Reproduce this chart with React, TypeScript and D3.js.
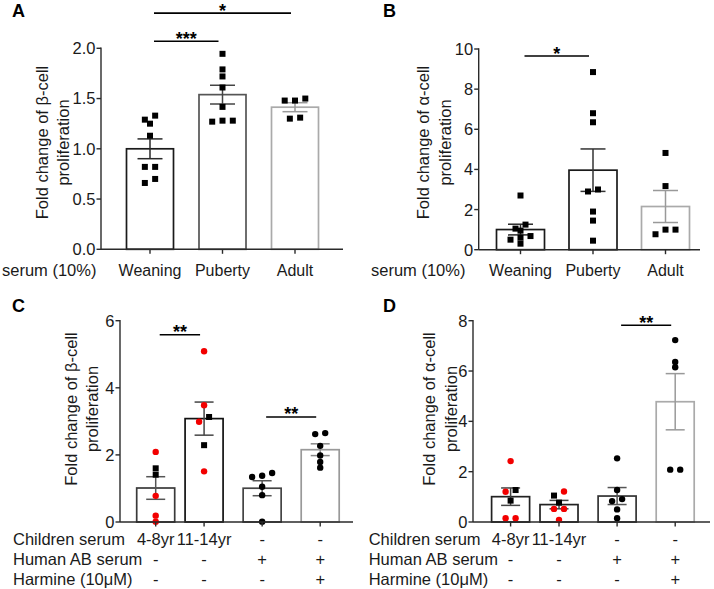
import React from "react";
import * as d3 from "d3";

// ---------------- DATA ----------------
const mouseCategories = ["Weaning", "Puberty", "Adult"];
const betaWeaning = [1.33, 1.29, 1.25, 1.13, 0.82, 0.82, 0.7, 0.66];
const betaPuberty = [1.945, 1.79, 1.72, 1.61, 1.417, 1.27, 1.28, 1.28];
const betaAdult = [1.48, 1.5, 1.48, 1.3, 1.31];
const alphaWeaning = [2.7, 1.25, 1.05, 0.95, 0.68, 0.6, 0.5, 0.3];
const alphaPuberty = [8.85, 6.8, 6.35, 3.0, 2.9, 1.9, 1.45, 0.45];
const alphaAdult = [4.82, 3.17, 1.0, 1.0, 0.77];

const betaTicks = [0, 0.5, 1, 1.5, 2];
const alphaMouseTicks = [0, 2, 4, 6, 8, 10];
const betaHumanTicks = [0, 2, 4, 6];
const alphaHumanTicks = [0, 2, 4, 6, 8];

const humanGroups = ["4-8yr", "11-14yr", "AB", "AB+Harmine"];
const childrenSerumRow = ["4-8yr", "11-14yr", "-", "-"];
const humanABRow = ["-", "-", "+", "+"];
const harmineRow = ["-", "-", "-", "+"];
const rowLabels = ["Children serum", "Human AB serum", "Harmine (10\u03bcM)"];

// kinds: r = red circle, s = black square, c = black circle
const betaChild48 = [2.09, 1.6, 1.41, 0.78, 0.19, 0.01];
const betaChild48Kind = ["r", "s", "s", "r", "r", "r"];
const betaChild1114 = [5.09, 3.48, 3.13, 2.99, 2.29, 1.51];
const betaChild1114Kind = ["r", "r", "s", "r", "s", "r"];
const betaAB = [1.46, 1.38, 1.34, 1.05, 0.8, 0.01];
const betaABHarmine = [2.65, 2.62, 2.27, 1.98, 1.79, 1.62];

const alphaChild48 = [2.42, 1.27, 1.2, 0.85, 0.15, 0.15];
const alphaChild48Kind = ["r", "s", "r", "s", "r", "r"];
const alphaChild1114 = [1.21, 1.05, 0.77, 0.52, 0.52, 0.08];
const alphaChild1114Kind = ["r", "s", "s", "r", "r", "r"];
const alphaAB = [2.53, 1.27, 0.91, 0.83, 0.5, 0.15];
const alphaABHarmine = [7.23, 6.36, 6.15, 2.08, 2.08];

const sigA = [
  { from: 0, to: 1, label: "***", level: 2.07 },
  { from: 0, to: 2, label: "*", level: 2.35 },
];
const sigB = [{ from: 0, to: 1, label: "*", level: 9.65 }];
const sigC = [
  { from: 0, to: 1, label: "**", level: 5.58 },
  { from: 2, to: 3, label: "**", level: 3.13 },
];
const sigD = [{ from: 2, to: 3, label: "**", level: 7.82 }];

// ---------------- HELPERS ----------------
const FONT = "'Liberation Sans', Arial, Helvetica, sans-serif";
const TXT = "#1a1a1a";
const RED = "#f20000";
const FS = 16.5;

function swarmOffsets(values: number[], y: (v: number) => number, spacing: number, thresh = 5) {
  const idx = values.map((_, i) => i).sort((a, b) => values[b] - values[a]);
  const clusters: number[][] = [];
  for (const i of idx) {
    const cur = clusters[clusters.length - 1];
    if (cur && Math.abs(y(values[i]) - y(values[cur[0]])) < thresh) cur.push(i);
    else clusters.push([i]);
  }
  const off = new Array(values.length).fill(0);
  for (const c of clusters) {
    const s = [...c].sort((a, b) => values[a] - values[b]);
    s.forEach((i, k) => (off[i] = (k - (s.length - 1) / 2) * spacing));
  }
  return off;
}

type Group = { values: number[]; kinds?: string[]; stroke: string; err: string };

type PanelProps = {
  letter: string;
  letterX: number;
  letterY: number;
  axisX: number;
  axisEnd: number;
  yTopPx: number;
  yZeroPx: number;
  yMax: number;
  ticks: number[];
  fmt: (v: number) => string;
  centers: number[];
  groups: Group[];
  barW: number;
  capW: number;
  spacing: number;
  labelLines: string[];
  labelX: number[];
  labelCY: number;
  sig: { from: number; to: number; label: string; level: number }[];
};

function Panel(p: PanelProps) {
  const y = d3.scaleLinear().domain([0, p.yMax]).range([p.yZeroPx, p.yTopPx]);
  return (
    <g>
      <text x={p.letterX} y={p.letterY} fontSize={18} fontWeight="bold" fill="#000" fontFamily={FONT}>
        {p.letter}
      </text>
      {p.labelLines.map((t, i) => (
        <text
          key={i}
          transform={`translate(${p.labelX[i]},${p.labelCY}) rotate(-90)`}
          textAnchor="middle"
          fontSize={FS}
          fill={TXT}
          fontFamily={FONT}
        >
          {t}
        </text>
      ))}
      {p.groups.map((g, i) => {
        const m = d3.mean(g.values) as number;
        return (
          <rect
            key={"b" + i}
            x={p.centers[i] - p.barW / 2}
            y={y(m)}
            width={p.barW}
            height={y(0) - y(m)}
            fill="#fff"
            stroke={g.stroke}
            strokeWidth={1.7}
          />
        );
      })}
      {p.groups.map((g, i) => {
        const m = d3.mean(g.values) as number;
        const sem = (d3.deviation(g.values) as number) / Math.sqrt(g.values.length);
        const cx = p.centers[i];
        return (
          <g key={"e" + i} stroke={g.err} strokeWidth={1.5}>
            <line x1={cx} x2={cx} y1={y(m - sem)} y2={y(m + sem)} />
            <line x1={cx - p.capW / 2} x2={cx + p.capW / 2} y1={y(m + sem)} y2={y(m + sem)} />
            <line x1={cx - p.capW / 2} x2={cx + p.capW / 2} y1={y(m - sem)} y2={y(m - sem)} />
          </g>
        );
      })}
      {p.groups.map((g, i) => {
        const off = swarmOffsets(g.values, y, p.spacing);
        return (
          <g key={"p" + i}>
            {g.values.map((v, k) => {
              const kind = g.kinds ? g.kinds[k] : "s";
              const px = p.centers[i] + off[k];
              const py = y(v);
              if (kind === "s")
                return <rect key={k} x={px - 3} y={py - 3} width={6} height={6} fill="#000" />;
              return <circle key={k} cx={px} cy={py} r={3.2} fill={kind === "r" ? RED : "#000"} />;
            })}
          </g>
        );
      })}
      <g stroke="#2a2a2a" strokeWidth={1.4} fill="none">
        <line x1={p.axisX} x2={p.axisX} y1={y(p.ticks[p.ticks.length - 1]) - 0.7} y2={y(0)} />
        <line x1={p.axisX} x2={p.axisEnd} y1={y(0)} y2={y(0)} />
        {p.ticks.map((t) => (
          <line key={t} x1={p.axisX - 4.5} x2={p.axisX} y1={y(t)} y2={y(t)} />
        ))}
        {p.centers.map((c, i) => (
          <line key={i} x1={c} x2={c} y1={y(0)} y2={y(0) + 4.5} />
        ))}
      </g>
      {p.ticks.map((t) => (
        <text
          key={t}
          x={p.axisX - 5.5}
          y={y(t)}
          dy="0.36em"
          textAnchor="end"
          fontSize={FS}
          fill={TXT}
          fontFamily={FONT}
        >
          {p.fmt(t)}
        </text>
      ))}
      {p.sig.map((s, i) => {
        const ly = y(s.level);
        const x1 = p.centers[s.from] + 4;
        const x2 = p.centers[s.to] - 4;
        return (
          <g key={"s" + i}>
            <line x1={x1} x2={x2} y1={ly} y2={ly} stroke="#000" strokeWidth={1.6} />
            <text
              x={(x1 + x2) / 2}
              y={ly + 3.5}
              textAnchor="middle"
              fontSize={18}
              fontWeight="bold"
              fill="#000"
              fontFamily={FONT}
            >
              {s.label}
            </text>
          </g>
        );
      })}
    </g>
  );
}

export default function App() {
  const fmt1 = d3.format(".1f");
  const fmt0 = d3.format("d");

  const xA = d3.scalePoint<string>().domain(mouseCategories).range([150, 295]);
  const xB = d3.scalePoint<string>().domain(mouseCategories).range([520.5, 665.5]);
  const slot = [0, 1, 2.2, 3.4];
  const xC = d3.scaleLinear().domain([0, 3.4]).range([155.7, 320.2]);
  const xD = d3.scaleLinear().domain([0, 3.4]).range([510.6, 675.2]);
  const cA = mouseCategories.map((c) => xA(c) as number);
  const cB = mouseCategories.map((c) => xB(c) as number);
  const cC = humanGroups.map((_, i) => xC(slot[i]));
  const cD = humanGroups.map((_, i) => xD(slot[i]));

  const rows = [childrenSerumRow, humanABRow, harmineRow];
  const rowY = [545, 565, 585];

  const tableFor = (centers: number[], labelX: number) => (
    <g fontSize={FS} fill={TXT} fontFamily={FONT}>
      {rowLabels.map((l, r) => (
        <g key={r}>
          <text x={labelX} y={rowY[r]}>
            {l}
          </text>
          {rows[r].map((v, i) => (
            <text key={i} x={centers[i]} y={rowY[r]} textAnchor="middle">
              {v}
            </text>
          ))}
        </g>
      ))}
    </g>
  );

  return (
    <svg
      width={714}
      height={589}
      style={{ position: "absolute", left: 0, top: 0, background: "#fff" }}
      fontFamily={FONT}
    >
      <rect width={714} height={589} fill="#fff" />
      <Panel
        letter="A"
        letterX={12}
        letterY={17}
        axisX={101}
        axisEnd={343}
        yTopPx={48.3}
        yZeroPx={249.3}
        yMax={2}
        ticks={betaTicks}
        fmt={fmt1}
        centers={cA}
        groups={[
          { values: betaWeaning, stroke: "#1a1a1a", err: "#2a2a2a" },
          { values: betaPuberty, stroke: "#555", err: "#444" },
          { values: betaAdult, stroke: "#aaa", err: "#999" },
        ]}
        barW={47}
        capW={25}
        spacing={10.3}
        labelLines={["Fold change of \u03b2-cell", "proliferation"]}
        labelX={[47.5, 69]}
        labelCY={142.5}
        sig={sigA}
      />
      <text x={2} y={276} fontSize={FS} fill={TXT} fontFamily={FONT}>
        serum (10%)
      </text>
      {mouseCategories.map((c, i) => (
        <text key={"ca" + i} x={cA[i]} y={276} textAnchor="middle" fontSize={16} fill={TXT} fontFamily={FONT}>
          {c}
        </text>
      ))}

      <Panel
        letter="B"
        letterX={383}
        letterY={17}
        axisX={478.7}
        axisEnd={700}
        yTopPx={49}
        yZeroPx={249.7}
        yMax={10}
        ticks={alphaMouseTicks}
        fmt={fmt0}
        centers={cB}
        groups={[
          { values: alphaWeaning, stroke: "#1a1a1a", err: "#2a2a2a" },
          { values: alphaPuberty, stroke: "#1a1a1a", err: "#333" },
          { values: alphaAdult, stroke: "#aaa", err: "#999" },
        ]}
        barW={48}
        capW={25}
        spacing={10}
        labelLines={["Fold change of \u03b1-cell", "proliferation"]}
        labelX={[429, 450.5]}
        labelCY={142.5}
        sig={sigB}
      />
      <text x={371} y={276} fontSize={FS} fill={TXT} fontFamily={FONT}>
        serum (10%)
      </text>
      {mouseCategories.map((c, i) => (
        <text key={"cb" + i} x={cB[i]} y={276} textAnchor="middle" fontSize={16} fill={TXT} fontFamily={FONT}>
          {c}
        </text>
      ))}

      <Panel
        letter="C"
        letterX={12}
        letterY={312}
        axisX={120}
        axisEnd={353}
        yTopPx={320.7}
        yZeroPx={522}
        yMax={6}
        ticks={betaHumanTicks}
        fmt={fmt0}
        centers={cC}
        groups={[
          { values: betaChild48, kinds: betaChild48Kind, stroke: "#3a3a3a", err: "#555" },
          { values: betaChild1114, kinds: betaChild1114Kind, stroke: "#111", err: "#444" },
          { values: betaAB, kinds: betaAB.map(() => "c"), stroke: "#444", err: "#555" },
          { values: betaABHarmine, kinds: betaABHarmine.map(() => "c"), stroke: "#999", err: "#888" },
        ]}
        barW={38}
        capW={19}
        spacing={10}
        labelLines={["Fold change of \u03b2-cell", "proliferation"]}
        labelX={[76.5, 98]}
        labelCY={409}
        sig={sigC}
      />
      {tableFor(cC, 13)}

      <Panel
        letter="D"
        letterX={383}
        letterY={312}
        axisX={473}
        axisEnd={710}
        yTopPx={320.7}
        yZeroPx={522}
        yMax={8}
        ticks={alphaHumanTicks}
        fmt={fmt0}
        centers={cD}
        groups={[
          { values: alphaChild48, kinds: alphaChild48Kind, stroke: "#222", err: "#444" },
          { values: alphaChild1114, kinds: alphaChild1114Kind, stroke: "#222", err: "#444" },
          { values: alphaAB, kinds: alphaAB.map(() => "c"), stroke: "#333", err: "#555" },
          { values: alphaABHarmine, kinds: alphaABHarmine.map(() => "c"), stroke: "#aaa", err: "#999" },
        ]}
        barW={38}
        capW={19}
        spacing={10}
        labelLines={["Fold change of \u03b1-cell", "proliferation"]}
        labelX={[435.3, 457]}
        labelCY={409}
        sig={sigD}
      />
      {tableFor(cD, 368.7)}
    </svg>
  );
}
